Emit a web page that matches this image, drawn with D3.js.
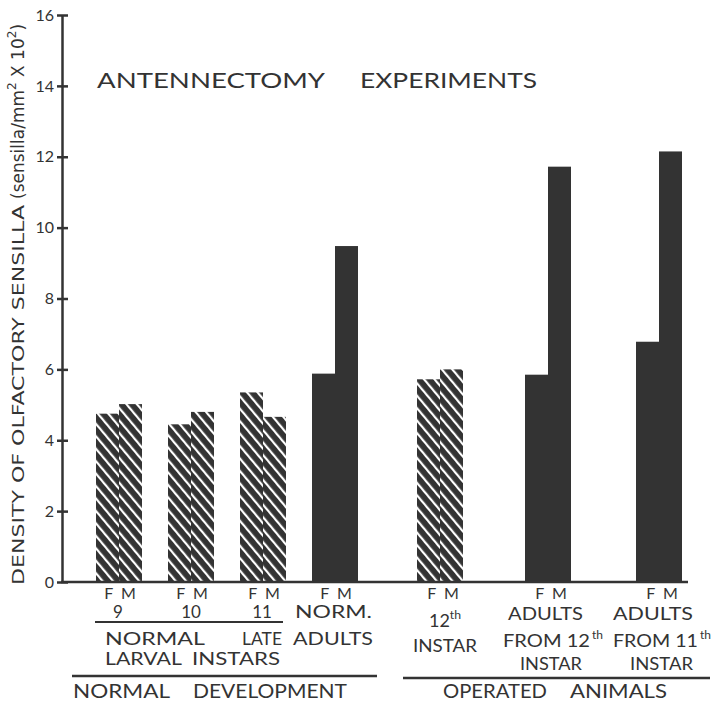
<!DOCTYPE html>
<html><head><meta charset="utf-8">
<script src="https://cdn.jsdelivr.net/npm/d3@7"></script>
<style>body{margin:0;background:#fff}svg{display:block}</style>
</head><body>
<svg id="c" width="714" height="704"></svg>
<script>
// ---- data ----
const groups = ["9", "10", "11", "NORM. ADULTS", "12th INSTAR", "ADULTS FROM 12th INSTAR", "ADULTS FROM 11th INSTAR"];
const stage  = ["larva", "larva", "larva", "adult", "larva", "adult", "adult"];
const female = [4.75, 4.45, 5.35, 5.88, 5.72, 5.85, 6.78];
const male   = [5.02, 4.80, 4.66, 9.48, 6.00, 11.72, 12.15];
const yTicks = [0, 2, 4, 6, 8, 10, 12, 14, 16];
const sexes  = ["F", "M"];

const ink = "#333";
const font = "Lato, 'Noto Sans', sans-serif";
const wide = "'DejaVu Sans', sans-serif";
const svg = d3.select("#c");

const y = d3.scaleLinear().domain([0, 16]).range([582, 15]);
const xc = d3.scaleOrdinal().domain(groups).range([119, 191, 263, 335, 440, 548, 659]);
const bw = 23;

// patterns
const defs = svg.append("defs");
["hF", "hM"].forEach((id, i) => {
  const p = defs.append("pattern").attr("id", id).attr("patternUnits", "userSpaceOnUse")
    .attr("width", 8).attr("height", 8)
    .attr("patternTransform", `rotate(-40) translate(${i * 4},0)`);
  p.append("rect").attr("width", 8).attr("height", 8).attr("fill", ink);
  p.append("rect").attr("x", 0).attr("width", 2.2).attr("height", 8).attr("fill", "#fff");
});
const fillFor = (st, sx) => st === "adult" ? ink : (sx === "F" ? "url(#hF)" : "url(#hM)");

// bars
const bars = [];
groups.forEach((g, i) => {
  bars.push({g, sx: "F", v: female[i], st: stage[i]});
  bars.push({g, sx: "M", v: male[i], st: stage[i]});
});
svg.append("g").selectAll("rect").data(bars).join("rect")
  .attr("x", d => d.sx === "F" ? xc(d.g) - bw : xc(d.g))
  .attr("y", d => y(d.v))
  .attr("width", bw)
  .attr("height", d => y(0) - y(d.v))
  .attr("fill", d => fillFor(d.st, d.sx));

// y axis
const yAxis = svg.append("g").attr("transform", "translate(62,0)")
  .call(d3.axisLeft(y).tickValues(yTicks).tickSize(0).tickPadding(8));
yAxis.select(".domain").attr("stroke", ink).attr("stroke-width", 2.5);
yAxis.selectAll(".tick line").attr("x1", -5).attr("x2", 6).attr("stroke", ink).attr("stroke-width", 2.5);
yAxis.selectAll(".tick text").attr("font-family", font).attr("font-size", 16).attr("fill", ink);

// x baseline
svg.append("line").attr("x1", 61).attr("x2", 688).attr("y1", y(0)).attr("y2", y(0))
  .attr("stroke", ink).attr("stroke-width", 2.5);

// y label
svg.append("text").attr("transform", "translate(24,585) rotate(-90)")
  .attr("font-family", wide).attr("font-size", 16).attr("fill", ink)
  .attr("textLength", 380).attr("lengthAdjust", "spacingAndGlyphs")
  .text("DENSITY OF OLFACTORY SENSILLA");
const yl = svg.append("text").attr("transform", "translate(24,199) rotate(-90)")
  .attr("font-family", wide).attr("fill", ink).attr("font-size", 17);
yl.append("tspan").text("(sensilla/mm");
yl.append("tspan").attr("font-size", 12).attr("dy", -8).text("2");
yl.append("tspan").attr("dy", 8).text(" X 10");
yl.append("tspan").attr("font-size", 12).attr("dy", -8).text("2");
yl.append("tspan").attr("dy", 8).text(")");

// text helper: left x, right x, baseline
function lab(x0, x1, by, t, size) {
  svg.append("text").attr("x", x0).attr("y", by).attr("font-family", font)
    .attr("font-size", size).attr("fill", ink)
    .attr("textLength", x1 - x0).attr("lengthAdjust", "spacingAndGlyphs").text(t);
}
function sup(x, by, base, s, size) {
  const t = svg.append("text").attr("x", x).attr("y", by).attr("font-family", font)
    .attr("font-size", size).attr("fill", ink).attr("text-anchor", "middle");
  t.append("tspan").text(base);
  t.append("tspan").attr("font-size", size * 0.68).attr("dy", -size * 0.42).text(s);
}

// title
lab(97, 325, 88, "ANTENNECTOMY", 21);
lab(360, 537, 88, "EXPERIMENTS", 21);

// F M labels
groups.forEach((g, i) => {
  const c = xc(g) + (i >= 4 ? 3 : 1);
  svg.append("text").attr("x", c).attr("y", 599).attr("text-anchor", "middle")
    .attr("font-family", font).attr("font-size", 16).attr("fill", ink)
    .attr("word-spacing", 4).text(sexes.join(" "));
});

// left annotations
[["9", 118], ["10", 191], ["11", 262]].forEach(([t, c]) => {
  svg.append("text").attr("x", c).attr("y", 618).attr("text-anchor", "middle")
    .attr("font-family", font).attr("font-size", 17).attr("fill", ink).text(t);
});
lab(295, 372, 618, "NORM.", 17);
svg.append("line").attr("x1", 95).attr("x2", 283).attr("y1", 622).attr("y2", 622).attr("stroke", ink).attr("stroke-width", 2);
lab(105, 205, 645, "NORMAL", 18);
lab(242, 282, 645, "LATE", 18);
lab(293, 373, 645, "ADULTS", 18);
lab(105, 182, 665, "LARVAL", 18);
lab(192, 280, 665, "INSTARS", 18);
svg.append("line").attr("x1", 72).attr("x2", 377).attr("y1", 676).attr("y2", 676).attr("stroke", ink).attr("stroke-width", 2.5);
lab(73, 170, 698, "NORMAL", 19);
lab(193, 347, 698, "DEVELOPMENT", 19);

// right annotations
sup(445, 627, "12", "th", 18);
lab(413, 477, 652, "INSTAR", 18);
lab(508, 583, 620, "ADULTS", 18);
lab(503, 590, 647, "FROM 12", 18);
svg.append("text").attr("x", 592).attr("y", 639).attr("font-family", font).attr("font-size", 12).attr("fill", ink).text("th");
lab(520, 582, 670, "INSTAR", 18);
lab(613, 693, 620, "ADULTS", 18);
lab(613, 698, 647, "FROM 11", 18);
svg.append("text").attr("x", 700).attr("y", 639).attr("font-family", font).attr("font-size", 12).attr("fill", ink).text("th");
lab(630, 693, 670, "INSTAR", 18);
svg.append("line").attr("x1", 403).attr("x2", 710).attr("y1", 678).attr("y2", 678).attr("stroke", ink).attr("stroke-width", 2.5);
lab(443, 547, 698, "OPERATED", 19);
lab(570, 667, 698, "ANIMALS", 19);
</script>
</body></html>
